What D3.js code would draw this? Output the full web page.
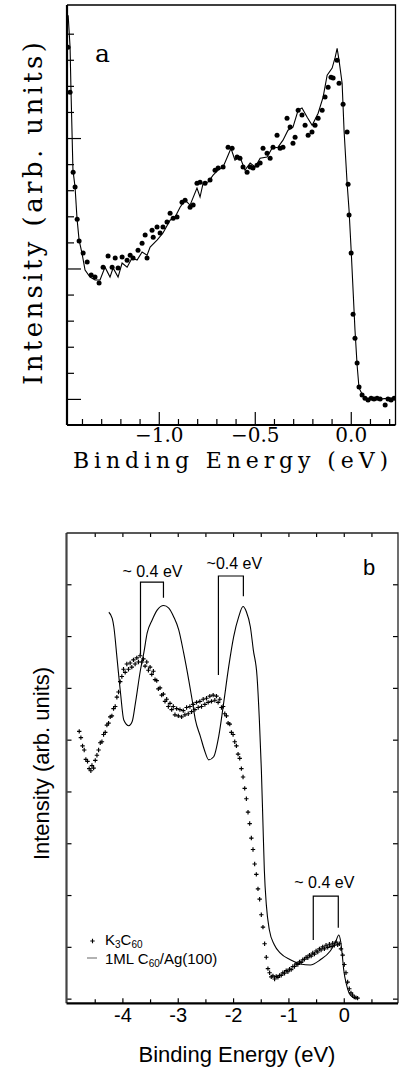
<!DOCTYPE html>
<html>
<head>
<meta charset="utf-8">
<script src="https://cdn.jsdelivr.net/npm/d3@7"></script>
<style>
  body { margin: 0; background: #fff; }
  svg { display: block; }
</style>
</head>
<body>
<svg id="chart"></svg>
<script>
// ---------- data: panel a (binding energy eV, intensity arb.) ----------
let aLine = [
  [-1.472, 15.71], [-1.462, 14.48], [-1.457, 12.76], [-1.447, 9.77], [-1.436, 9.12], [-1.426, 7.93],
  [-1.415, 7.09], [-1.400, 6.59], [-1.384, 5.94], [-1.358, 5.67], [-1.332, 5.56], [-1.306, 5.56],
  [-1.280, 6.05], [-1.254, 5.67], [-1.238, 6.02], [-1.212, 5.67], [-1.191, 6.21], [-1.165, 6.05],
  [-1.139, 6.40], [-1.113, 6.32], [-1.087, 6.63], [-1.061, 6.51], [-1.045, 6.82], [-1.009, 7.09],
  [-0.978, 7.36], [-0.941, 7.85], [-0.915, 7.97], [-0.889, 8.35], [-0.863, 8.62], [-0.837, 8.43],
  [-0.801, 9.08], [-0.785, 8.74], [-0.769, 9.27], [-0.743, 9.31], [-0.717, 9.58], [-0.691, 9.77],
  [-0.665, 9.89], [-0.639, 10.34], [-0.624, 10.61], [-0.603, 10.15], [-0.577, 10.27], [-0.551, 9.77],
  [-0.524, 10.04], [-0.498, 9.89], [-0.472, 10.23], [-0.436, 10.27], [-0.410, 10.61], [-0.379, 10.65],
  [-0.353, 10.92], [-0.327, 11.30], [-0.301, 11.42], [-0.274, 12.07], [-0.254, 12.15], [-0.227, 11.80],
  [-0.201, 11.49], [-0.170, 11.95], [-0.144, 12.57], [-0.123, 13.41], [-0.097, 13.68], [-0.081, 14.10],
  [-0.071, 14.44], [-0.061, 13.98], [-0.045, 13.10], [-0.035, 11.30], [-0.019, 9.27], [-0.009, 8.24],
  [0.002, 6.70], [0.012, 5.17], [0.022, 3.64], [0.033, 2.30], [0.043, 1.42], [0.064, 1.11],
  [0.090, 1.00], [0.126, 1.03], [0.163, 1.00], [0.205, 1.03], [0.231, 1.00]
];

let aDots = [
  [-1.473, 14.48], [-1.462, 12.76], [-1.446, 9.69], [-1.436, 9.12], [-1.425, 7.89], [-1.415, 7.05],
  [-1.394, 6.59], [-1.373, 6.25], [-1.352, 5.75], [-1.332, 5.67], [-1.311, 5.44], [-1.290, 6.05],
  [-1.264, 6.48], [-1.243, 6.05], [-1.227, 6.40], [-1.212, 6.02], [-1.191, 6.44], [-1.165, 6.32],
  [-1.149, 6.51], [-1.134, 6.40], [-1.108, 6.70], [-1.087, 6.97], [-1.071, 7.28], [-1.061, 6.40],
  [-1.035, 7.47], [-1.029, 7.20], [-1.009, 7.59], [-0.993, 7.36], [-0.978, 7.59], [-0.957, 7.78],
  [-0.941, 8.12], [-0.925, 7.93], [-0.905, 7.97], [-0.879, 8.54], [-0.863, 8.62], [-0.837, 8.35],
  [-0.821, 8.43], [-0.801, 9.27], [-0.785, 9.31], [-0.759, 9.27], [-0.733, 9.39], [-0.707, 9.77],
  [-0.691, 9.85], [-0.665, 9.89], [-0.639, 10.65], [-0.618, 10.61], [-0.592, 10.27], [-0.577, 10.23],
  [-0.561, 9.89], [-0.540, 9.69], [-0.524, 9.89], [-0.509, 9.85], [-0.488, 9.96], [-0.472, 10.04],
  [-0.457, 10.61], [-0.436, 10.42], [-0.420, 10.23], [-0.405, 10.65], [-0.384, 11.11], [-0.368, 10.61],
  [-0.353, 10.65], [-0.332, 11.76], [-0.316, 11.42], [-0.301, 10.80], [-0.290, 11.03], [-0.274, 12.07],
  [-0.254, 11.88], [-0.238, 11.49], [-0.222, 11.11], [-0.202, 11.23], [-0.186, 11.49], [-0.170, 11.76],
  [-0.149, 12.07], [-0.134, 12.57], [-0.118, 12.95], [-0.103, 13.33], [-0.092, 13.30], [-0.071, 13.98],
  [-0.061, 13.10], [-0.040, 12.30], [-0.019, 11.23], [-0.014, 9.23], [-0.009, 8.05], [0.002, 6.59],
  [0.012, 4.25], [0.022, 3.33], [0.033, 2.38], [0.043, 1.46], [0.059, 1.15], [0.074, 1.03],
  [0.090, 0.96], [0.106, 1.03], [0.121, 1.00], [0.137, 1.03], [0.153, 1.00], [0.179, 0.77],
  [0.194, 1.00], [0.210, 0.96], [0.226, 1.03]
];

let aTicks = [-1.0, -0.5, 0.0];
let aMinorTicks = [-1.4, -1.3, -1.2, -1.1, -0.9, -0.8, -0.7, -0.6, -0.4, -0.3, -0.2, -0.1, 0.1, 0.2];
let aYTicks = [2, 3, 4, 5, 7, 8, 9, 10, 12, 13, 14, 15];
let aYMajor = [1, 6, 11];

// ---------- data: panel b ----------
let bLine = [ // 1ML C60/Ag(100)
  [-4.245, 7.46], [-4.184, 7.34], [-4.155, 7.18], [-4.094, 6.54], [-4.034, 5.90], [-3.975, 5.38],
  [-3.884, 5.27], [-3.823, 5.35], [-3.764, 5.71], [-3.673, 6.35], [-3.614, 6.67], [-3.552, 7.06],
  [-3.462, 7.31], [-3.372, 7.50], [-3.253, 7.59], [-3.162, 7.54], [-3.072, 7.37], [-2.982, 7.12],
  [-2.892, 6.67], [-2.801, 6.15], [-2.740, 5.77], [-2.681, 5.38], [-2.590, 5.06], [-2.518, 4.80],
  [-2.440, 4.61], [-2.350, 4.67], [-2.260, 5.06], [-2.170, 5.71], [-2.079, 6.41], [-1.989, 6.99],
  [-1.899, 7.37], [-1.820, 7.57], [-1.760, 7.47], [-1.688, 7.18], [-1.634, 6.73], [-1.567, 6.22],
  [-1.525, 5.38], [-1.489, 4.42], [-1.462, 3.45], [-1.435, 2.48], [-1.399, 1.81], [-1.345, 1.33],
  [-1.255, 1.04], [-1.146, 0.88], [-0.966, 0.75], [-0.785, 0.67], [-0.605, 0.65], [-0.424, 0.75],
  [-0.244, 0.92], [-0.153, 1.08], [-0.090, 1.23], [-0.054, 1.09], [-0.027, 0.84], [0.000, 0.55],
  [0.054, 0.25], [0.117, 0.07], [0.208, 0.00]
];

let bCross = [ // K3C60
  [-4.78, 5.16], [-4.75, 5.04], [-4.72, 4.88], [-4.69, 4.80], [-4.66, 4.62], [-4.63, 4.58],
  [-4.60, 4.44], [-4.57, 4.40], [-4.55, 4.50], [-4.52, 4.45], [-4.49, 4.60], [-4.46, 4.70],
  [-4.43, 4.80], [-4.40, 4.94], [-4.37, 4.96], [-4.34, 5.10], [-4.31, 5.14], [-4.28, 5.28],
  [-4.25, 5.32], [-4.22, 5.44], [-4.19, 5.46], [-4.16, 5.60], [-4.13, 5.64], [-4.10, 5.82],
  [-4.07, 5.92], [-4.04, 6.12], [-4.01, 6.22], [-3.98, 6.36], [-3.95, 6.30], [-3.92, 6.46],
  [-3.89, 6.36], [-3.86, 6.48], [-3.83, 6.40], [-3.80, 6.54], [-3.77, 6.46], [-3.74, 6.58],
  [-3.71, 6.50], [-3.68, 6.62], [-3.65, 6.50], [-3.62, 6.56], [-3.59, 6.42], [-3.56, 6.50],
  [-3.53, 6.34], [-3.50, 6.40], [-3.47, 6.26], [-3.44, 6.32], [-3.41, 6.16], [-3.38, 6.14],
  [-3.35, 5.98], [-3.32, 6.00], [-3.29, 5.86], [-3.26, 5.88], [-3.23, 5.74], [-3.20, 5.78],
  [-3.17, 5.64], [-3.14, 5.70], [-3.11, 5.58], [-3.08, 5.64], [-3.05, 5.48], [-3.02, 5.60],
  [-2.99, 5.46], [-2.96, 5.58], [-2.93, 5.44], [-2.90, 5.56], [-2.87, 5.48], [-2.84, 5.62],
  [-2.81, 5.50], [-2.78, 5.64], [-2.75, 5.54], [-2.72, 5.68], [-2.69, 5.58], [-2.66, 5.72],
  [-2.63, 5.62], [-2.60, 5.74], [-2.57, 5.64], [-2.54, 5.78], [-2.51, 5.68], [-2.48, 5.80],
  [-2.45, 5.72], [-2.42, 5.84], [-2.39, 5.74], [-2.36, 5.86], [-2.33, 5.76], [-2.30, 5.84],
  [-2.27, 5.72], [-2.24, 5.78], [-2.21, 5.62], [-2.18, 5.64], [-2.15, 5.50], [-2.12, 5.46],
  [-2.09, 5.32], [-2.06, 5.30], [-2.03, 5.14], [-2.00, 5.10], [-1.97, 4.96], [-1.94, 4.88],
  [-1.91, 4.72], [-1.88, 4.64], [-1.85, 4.44], [-1.82, 4.28], [-1.79, 4.06], [-1.76, 3.86],
  [-1.73, 3.60], [-1.70, 3.38], [-1.67, 3.10], [-1.64, 2.88], [-1.61, 2.60], [-1.58, 2.40],
  [-1.55, 2.12], [-1.52, 1.92], [-1.49, 1.62], [-1.46, 1.38], [-1.43, 1.06], [-1.40, 0.80],
  [-1.37, 0.58], [-1.34, 0.50], [-1.31, 0.42], [-1.28, 0.44], [-1.25, 0.38], [-1.22, 0.43],
  [-1.19, 0.41], [-1.16, 0.45], [-1.13, 0.45], [-1.10, 0.50], [-1.07, 0.49], [-1.04, 0.54],
  [-1.01, 0.52], [-0.98, 0.57], [-0.95, 0.56], [-0.92, 0.62], [-0.89, 0.62], [-0.86, 0.67],
  [-0.83, 0.66], [-0.80, 0.71], [-0.77, 0.70], [-0.74, 0.75], [-0.71, 0.76], [-0.68, 0.80],
  [-0.65, 0.79], [-0.62, 0.84], [-0.59, 0.82], [-0.56, 0.88], [-0.53, 0.86], [-0.50, 0.92],
  [-0.47, 0.90], [-0.44, 0.96], [-0.41, 0.94], [-0.38, 1.00], [-0.35, 0.96], [-0.32, 1.03],
  [-0.29, 0.99], [-0.26, 1.05], [-0.23, 1.01], [-0.20, 1.07], [-0.17, 1.03], [-0.14, 1.09],
  [-0.11, 1.04], [-0.08, 1.06], [-0.05, 0.96], [-0.02, 0.84], [0.01, 0.66], [0.04, 0.50],
  [0.07, 0.32], [0.10, 0.19], [0.13, 0.11], [0.16, 0.07], [0.19, 0.03], [0.22, 0.02], [0.25, 0.01]
];

let bTicks = [-4, -3, -2, -1, 0];
let bTickLabels = ["-4", "-3", "-2", "-1", "0"];
let bMinorTicks = [-4.5, -3.5, -2.5, -1.5, -0.5, 0.5];
let bYTicks = [0, 1, 2, 3, 4, 5, 6, 7, 8];

// shift brackets: energies of the two peaks, bracket top, ends of the two legs
let brackets = [
  { e0: -3.673, e1: -3.258, top: 8.04, end0: 6.64, end1: 7.74, label: "~ 0.4 eV", le: -3.457, li: 8.14 },
  { e0: -2.265, e1: -1.814, top: 8.16, end0: 6.25, end1: 7.77, label: "~0.4 eV", le: -1.977, li: 8.30 },
  { e0: -0.551, e1: -0.099, top: 1.98, end0: 1.13, end1: 1.37, label: "~ 0.4 eV", le: -0.352, li: 2.14 }
];

// ---------- layout ----------
let width = 400;
let height = 1074;
let serif = "'DejaVu Serif', serif";
let sans = "'Liberation Sans', Arial, sans-serif";

let svg = d3.select("#chart").attr("width", width).attr("height", height);

let crossPath = "M-2.2,0H2.2M0,-2.2V2.2";

// ================= panel a =================
let xA = d3.scaleLinear().domain([-1.478, 0.233]).range([67, 395.5]);
let yA = d3.scaleLinear().domain([0, 16.1]).range([425, 5]);

let gA = svg.append("g");

svg.append("clipPath").attr("id", "clipA")
  .append("rect").attr("x", 67).attr("y", 5).attr("width", 328.5).attr("height", 420);

let styleAxis = (g, font, size) => {
  g.select(".domain").remove();
  g.attr("font-family", font).attr("font-size", size);
  g.selectAll("line").attr("stroke", "#000").attr("stroke-width", 1.2);
  g.selectAll("text").attr("fill", "#000");
};

gA.append("g")
  .attr("transform", "translate(0,425)")
  .call(d3.axisBottom(xA).tickValues(aMinorTicks).tickSize(-6).tickFormat(""))
  .call(g => styleAxis(g, serif, 20));

gA.append("g")
  .attr("transform", "translate(0,425)")
  .call(d3.axisBottom(xA).tickValues(aTicks).tickSize(-13).tickPadding(3).tickFormat(d3.format(".1f")))
  .call(g => styleAxis(g, serif, 20));

gA.append("g")
  .attr("transform", "translate(67,0)")
  .call(d3.axisLeft(yA).tickValues(aYTicks).tickSize(-7).tickFormat(""))
  .call(g => styleAxis(g, serif, 20));

gA.append("g")
  .attr("transform", "translate(67,0)")
  .call(d3.axisLeft(yA).tickValues(aYMajor).tickSize(-14).tickFormat(""))
  .call(g => styleAxis(g, serif, 20));

// frame
gA.append("path")
  .attr("d", `M67,${yA(0)}V${yA(16.1)}`)
  .attr("stroke", "#000").attr("stroke-width", 2.2).attr("fill", "none");
gA.append("path")
  .attr("d", `M67,${yA(16.1)}H395.5V${yA(0)}`)
  .attr("stroke", "#000").attr("stroke-width", 1.3).attr("fill", "none");
gA.append("path")
  .attr("d", `M67,${yA(0)}H395.5`)
  .attr("stroke", "#000").attr("stroke-width", 2.2).attr("fill", "none");

let lineA = d3.line().x(d => xA(d[0])).y(d => yA(d[1]));

gA.append("path")
  .datum(aLine)
  .attr("clip-path", "url(#clipA)")
  .attr("d", lineA)
  .attr("fill", "none")
  .attr("stroke", "#000")
  .attr("stroke-width", 1.1);

gA.append("g")
  .attr("clip-path", "url(#clipA)")
  .selectAll("circle")
  .data(aDots)
  .enter()
  .append("circle")
  .attr("cx", d => xA(d[0]))
  .attr("cy", d => yA(d[1]))
  .attr("r", 2.5)
  .attr("fill", "#000");

gA.append("text")
  .attr("x", 95).attr("y", 62)
  .attr("font-family", serif).attr("font-size", 25)
  .text("a");

gA.append("text")
  .attr("transform", "translate(42,213.5) rotate(-90)")
  .attr("text-anchor", "middle")
  .attr("font-family", serif).attr("font-size", 26)
  .attr("textLength", 343).attr("lengthAdjust", "spacing")
  .text("Intensity (arb. units)");

gA.append("text")
  .attr("x", 230.5).attr("y", 468)
  .attr("text-anchor", "middle")
  .attr("font-family", serif).attr("font-size", 22)
  .attr("textLength", 315).attr("lengthAdjust", "spacing")
  .text("Binding Energy (eV)");

// ================= panel b =================
let xB = d3.scaleLinear().domain([-5.01, 0.98]).range([66.5, 398]);
let yB = d3.scaleLinear().domain([-0.09, 8.99]).range([1003.3, 533]);

let gB = svg.append("g");

svg.append("clipPath").attr("id", "clipB")
  .append("rect").attr("x", 66.5).attr("y", 533).attr("width", 331.5).attr("height", 470.3);

gB.append("g")
  .attr("transform", "translate(0,1003.3)")
  .call(d3.axisBottom(xB).tickValues(bMinorTicks).tickSize(-4).tickFormat(""))
  .call(g => styleAxis(g, sans, 20));

gB.append("g")
  .attr("transform", "translate(0,1003.3)")
  .call(d3.axisBottom(xB).tickValues(bTicks).tickSize(-5).tickPadding(5)
    .tickFormat((d, i) => bTickLabels[i]))
  .call(g => styleAxis(g, sans, 20));

gB.append("g")
  .attr("transform", "translate(0,533)")
  .call(d3.axisTop(xB).tickValues(bTicks.concat(bMinorTicks)).tickSize(-4).tickFormat(""))
  .call(g => styleAxis(g, sans, 20));

gB.append("g")
  .attr("transform", "translate(66.5,0)")
  .call(d3.axisLeft(yB).tickValues(bYTicks).tickSize(-5).tickFormat(""))
  .call(g => styleAxis(g, sans, 20));

gB.append("g")
  .attr("transform", "translate(398,0)")
  .call(d3.axisRight(yB).tickValues(bYTicks).tickSize(-5).tickFormat(""))
  .call(g => styleAxis(g, sans, 20));

// frame
gB.append("path")
  .attr("d", `M66.5,${yB(-0.09)}V${yB(8.99)}`)
  .attr("stroke", "#444").attr("stroke-width", 2.2).attr("fill", "none");
gB.append("path")
  .attr("d", `M66.5,${yB(8.99)}H398V${yB(-0.09)}`)
  .attr("stroke", "#222").attr("stroke-width", 1.3).attr("fill", "none");
gB.append("path")
  .attr("d", `M66.5,${yB(-0.09)}H398`)
  .attr("stroke", "#000").attr("stroke-width", 2.2).attr("fill", "none");

let lineB = d3.line().x(d => xB(d[0])).y(d => yB(d[1])).curve(d3.curveMonotoneX);

gB.append("path")
  .datum(bLine)
  .attr("clip-path", "url(#clipB)")
  .attr("d", lineB)
  .attr("fill", "none")
  .attr("stroke", "#000")
  .attr("stroke-width", 1.1);

gB.append("g")
  .selectAll("path")
  .data(bCross)
  .enter()
  .append("path")
  .attr("transform", d => `translate(${xB(d[0])},${yB(d[1])})`)
  .attr("d", crossPath)
  .attr("stroke", "#000")
  .attr("stroke-width", 1.15)
  .attr("fill", "none");

// brackets marking the ~0.4 eV shifts
let brG = gB.append("g");
brackets.forEach(b => {
  brG.append("path")
    .attr("d", `M${xB(b.e0)},${yB(b.end0)}V${yB(b.top)}H${xB(b.e1)}V${yB(b.end1)}`)
    .attr("fill", "none").attr("stroke", "#000").attr("stroke-width", 1.2);
  brG.append("text")
    .attr("x", xB(b.le)).attr("y", yB(b.li))
    .attr("text-anchor", "middle")
    .attr("font-family", sans).attr("font-size", 16)
    .text(b.label);
});

gB.append("text")
  .attr("x", 363).attr("y", 575)
  .attr("font-family", sans).attr("font-size", 22)
  .text("b");

// legend
gB.append("path")
  .attr("transform", "translate(92.5,941)")
  .attr("d", crossPath)
  .attr("stroke", "#000").attr("stroke-width", 1.1).attr("fill", "none");
gB.append("path")
  .attr("d", "M87,958H97")
  .attr("stroke", "#888").attr("stroke-width", 1.3);

let leg1 = gB.append("text")
  .attr("x", 105).attr("y", 945)
  .attr("font-family", sans).attr("font-size", 15);
leg1.append("tspan").text("K");
leg1.append("tspan").attr("font-size", 10).attr("dy", 2.5).text("3");
leg1.append("tspan").attr("dy", -2.5).text("C");
leg1.append("tspan").attr("font-size", 10).attr("dy", 2.5).text("60");

let leg2 = gB.append("text")
  .attr("x", 105).attr("y", 964)
  .attr("font-family", sans).attr("font-size", 15);
leg2.append("tspan").text("1ML C");
leg2.append("tspan").attr("font-size", 10).attr("dy", 2.5).text("60");
leg2.append("tspan").attr("dy", -2.5).text("/Ag(100)");

gB.append("text")
  .attr("transform", "translate(49,763.5) rotate(-90)")
  .attr("text-anchor", "middle")
  .attr("font-family", sans).attr("font-size", 22)
  .text("Intensity (arb. units)");

gB.append("text")
  .attr("x", 237).attr("y", 1062)
  .attr("text-anchor", "middle")
  .attr("font-family", sans).attr("font-size", 22)
  .text("Binding Energy (eV)");
</script>
</body>
</html>
